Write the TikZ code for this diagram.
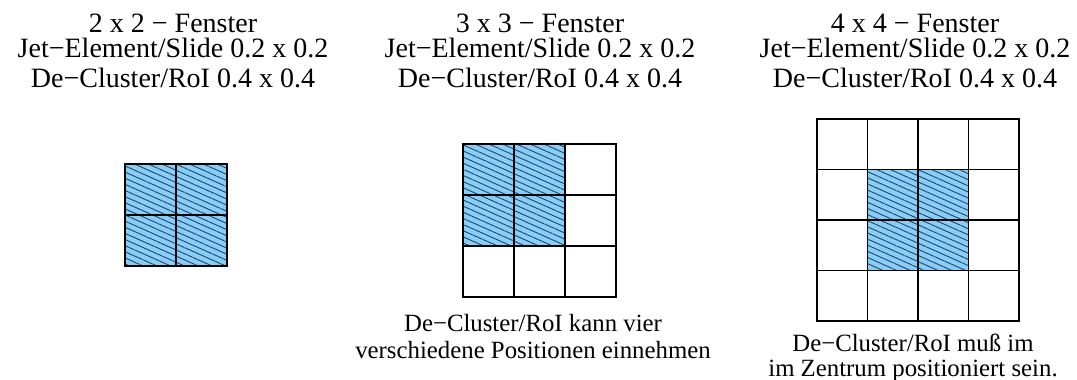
\documentclass[tikz,border=0pt]{standalone}
\usepackage{fontspec}
\setmainfont{Liberation Serif}
\usetikzlibrary{patterns.meta}
\definecolor{roiblue}{HTML}{87CEFA}
\definecolor{hatchline}{HTML}{26465A}
\tikzset{
  titletext/.style={anchor=base, font=\fontsize{28}{30}\selectfont, inner sep=0pt},
  notetext/.style={anchor=base, font=\fontsize{24.8}{27}\selectfont, inner sep=0pt},
  roi/.style={fill=roiblue, postaction={pattern={Lines[angle=-24,distance=5.6pt,line width=0.9pt]}, pattern color=hatchline}},
  cellbox/.style={draw=black, line width=1.5pt},
}
\begin{document}
\begin{tikzpicture}[x=1pt,y=-1pt]
\useasboundingbox (0,0) rectangle (1077,380);
% ---- titles
\node[titletext] (t1a) at (173,32) {2 x 2 − Fenster};
\node[titletext] (t1b) at (173,57) {Jet−Element/Slide 0.2 x 0.2};
\node[titletext] (t1c) at (173,87) {De−Cluster/RoI 0.4 x 0.4};
\node[titletext] (t2a) at (540,32) {3 x 3 − Fenster};
\node[titletext] (t2b) at (540,57) {Jet−Element/Slide 0.2 x 0.2};
\node[titletext] (t2c) at (540,87) {De−Cluster/RoI 0.4 x 0.4};
\node[titletext] (t3a) at (915,32) {4 x 4 − Fenster};
\node[titletext] (t3b) at (915,57) {Jet−Element/Slide 0.2 x 0.2};
\node[titletext] (t3c) at (915,87) {De−Cluster/RoI 0.4 x 0.4};
% ---- 2x2 window
\fill[roi] (125,164) rectangle (227,266);
\foreach \i in {0,1}{\foreach \j in {0,1}{
  \draw[cellbox] (125+51*\i,164+51*\j) rectangle ++(51,51);}}
% ---- 3x3 window
\fill[roi] (463,144) rectangle (565,246);
\foreach \i in {0,1,2}{\foreach \j in {0,1,2}{
  \draw[cellbox] (463+51*\i,144+51*\j) rectangle ++(51,51);}}
% ---- 4x4 window
\fill[roi] (867.5,169.5) rectangle (968.5,270.5);
\foreach \i in {0,1,2,3}{\foreach \j in {0,1,2,3}{
  \draw[cellbox] (817+50.5*\i,119+50.5*\j) rectangle ++(50.5,50.5);}}
% ---- notes
\node[notetext] (n2a) at (533,331) {De−Cluster/RoI kann vier};
\node[notetext] (n2b) at (533,358) {verschiedene Positionen einnehmen};
\node[notetext] (n3a) at (913,351) {De−Cluster/RoI muß im};
\node[notetext] (n3b) at (913,376) {im Zentrum positioniert sein.};
\end{tikzpicture}
\end{document}
